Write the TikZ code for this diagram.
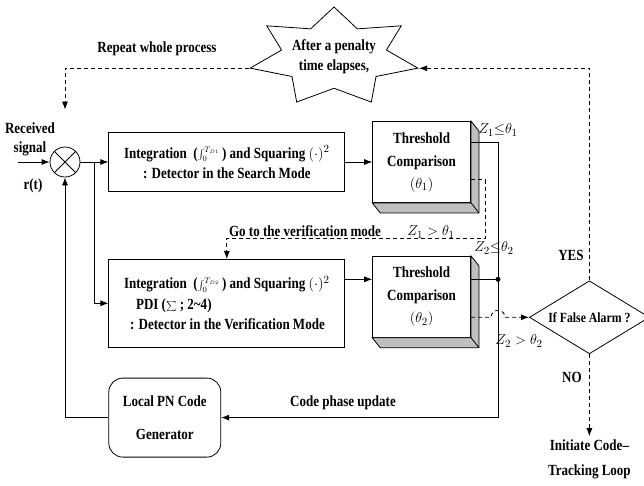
\documentclass[tikz,border=0pt]{standalone}
\usepackage{fontspec}
\setmainfont{Liberation Serif}[FakeStretch=0.84]
\usetikzlibrary{positioning,shapes.geometric,arrows.meta,calc}

\tikzset{
    block/.style={rectangle, draw, fill=white, minimum width=236pt},
    thresh/.style={rectangle, draw, fill=white, minimum width=98pt, minimum height=81pt, inner sep=2pt},
    junction/.style={circle, fill, inner sep=0pt, minimum size=5pt},
    dashline/.style={dash pattern=on 4pt off 3pt},
}

% grey side and bottom of a threshold box
\newcommand{\slab}[1]{%
    \draw[fill=black!25] (#1.north east) -- ++(8,10) -- ([shift={(8,10)}]#1.south east)
        -- ([shift={(8,10)}]#1.south west) -- (#1.south west) -- (#1.south east) -- cycle;
    \draw (#1.south east) -- ++(8,10);}
% small integral with limits
\newcommand{\tinyintegral}[1]{{\fontsize{11}{11}\selectfont$\int_0^{#1}$}}

\begin{document}
\begin{tikzpicture}[x=1pt, y=-1pt, line width=0.8pt, >={Latex[length=8pt,width=6pt]},
    every node/.style={font=\fontsize{15.5}{20}\selectfont\bfseries, align=center}]
    \useasboundingbox (0,0) rectangle (644,485);

    \node[circle, draw, minimum size=30pt, inner sep=0pt] (mix) at (65,162) {};
    \draw (mix.north west) -- (mix.south east) (mix.north east) -- (mix.south west);
    \node[block, minimum height=59pt] (box1) [right=28pt of mix]
        {Integration~ (\tinyintegral{T_{D1}}\,) and Squaring $(\cdot)^2$\\: Detector in the Search Mode};
    \node[thresh] (thr1) [right=27pt of box1] {Threshold\\[3pt]Comparison\\[2pt]$(\theta_1)$};
    \node[block, minimum height=88pt, align=left] (box2) [below=67pt of box1]
        {Integration~ (\tinyintegral{T_{D2}}\,) and Squaring $(\cdot)^2$\\[1pt]
         \hspace*{12pt}PDI ($\sum$ ; 2\textasciitilde4)\\
         \hspace*{6pt}: Detector in the Verification Mode};
    \node[thresh] (thr2) [below=53pt of thr1] {Threshold\\[3pt]Comparison\\[2pt]$(\theta_2)$};
    \node[rectangle, rounded corners=14pt, draw, minimum width=112pt, minimum height=79pt]
        (gen) [below=30pt of box2.south west, anchor=north west] {Local PN Code\\[13pt]Generator};
    \node[diamond, draw, fill=white, aspect=1.64, minimum width=120pt, minimum height=73pt,
        inner sep=1pt, font=\fontsize{14}{17}\selectfont\bfseries]
        (alarm) [right=58pt of thr2, yshift=-20.5pt] {If False Alarm ?};
    \node[font=\fontsize{15.5}{25}\selectfont\bfseries] (init) [below=82pt of alarm]
        {Initiate Code--\\Tracking Loop};
    \node[star, star points=7, star point ratio=1.6, draw, fill=white, minimum size=100pt,
        inner sep=0pt, xscale=1.72, transform shape] (star) at (334,57) {};
    \node (penalty) at (star.center) {After a penalty\\time elapses,};
    \slab{thr1}
    \slab{thr2}

    \node (rxlbl) at (30,139) {Received\\[-1pt]signal};
    \node (rt) at (33,186) {r(t)};
    \node (replbl) at (157,49) {Repeat whole process};
    \node (golbl) at (305,231) {Go to the verification mode};
    \node (codelbl) at (343,403) {Code phase update};
    \node (yeslbl) at (571,255) {YES};
    \node (nolbl) at (572,377) {NO};
    \node[font=\fontsize{15}{18}\selectfont] (z1a) at (498,130) {$Z_1{\le}\theta_1$};
    \node[font=\fontsize{15}{18}\selectfont] (z1b) at (431,232) {$Z_1>\theta_1$};
    \node[font=\fontsize{15}{18}\selectfont] (z2a) at (494,248) {$Z_2{\le}\theta_2$};
    \node[font=\fontsize{15}{18}\selectfont] (z2b) at (519,341) {$Z_2>\theta_2$};

    \coordinate (rin) at ([xshift=-32pt]mix.west);
    \coordinate (rep) at ([yshift=37pt]mix.north);
    \coordinate (split) at ($(mix.east)!0.5!(box1.west)$);
    \coordinate (bus) at ([xshift=27pt]thr1.east);
    \coordinate (t1hi) at ([yshift=20pt]thr1.east);
    \coordinate (t1lo) at ([yshift=-17.5pt]thr1.east);
    \coordinate (t2hi) at ([yshift=17.5pt]thr2.east);
    \coordinate (t2lo) at ([yshift=-20.5pt]thr2.east);
    \coordinate (b2out) at (box2.east |- t2hi);
    \coordinate (hop) at (t2lo -| bus);

    \draw[->] (rin) -- (mix.west);
    \draw[->] (mix) -- (box1);
    \draw[->] (split) |- (box2.west);
    \draw[->] (box1) -- (thr1);
    \draw[->] (b2out) -- (b2out -| thr2.west);
    \draw[->] (t1hi) -| (bus |- gen.east) -- (gen.east);
    \draw (t2hi) -- (t2hi -| bus) node[junction] {};
    \draw[->] (gen.west) -| (mix.south);
    \draw[dashline, ->] (t1lo) -- ++(14,0) -- ++(0,59) -| (box2.north);
    \draw[dashline, ->] (t2lo) -- ([xshift=-7pt]hop) arc[start angle=180, end angle=0, radius=7pt] -- (alarm.west);
    \draw[dashline, ->] (alarm.north) |- (star.outer point 6);
    \draw[dashline, ->] (alarm.south) -- (init.north);
    \draw[dashline, ->] (star.outer point 3) -| (rep);
\end{tikzpicture}
\end{document}
